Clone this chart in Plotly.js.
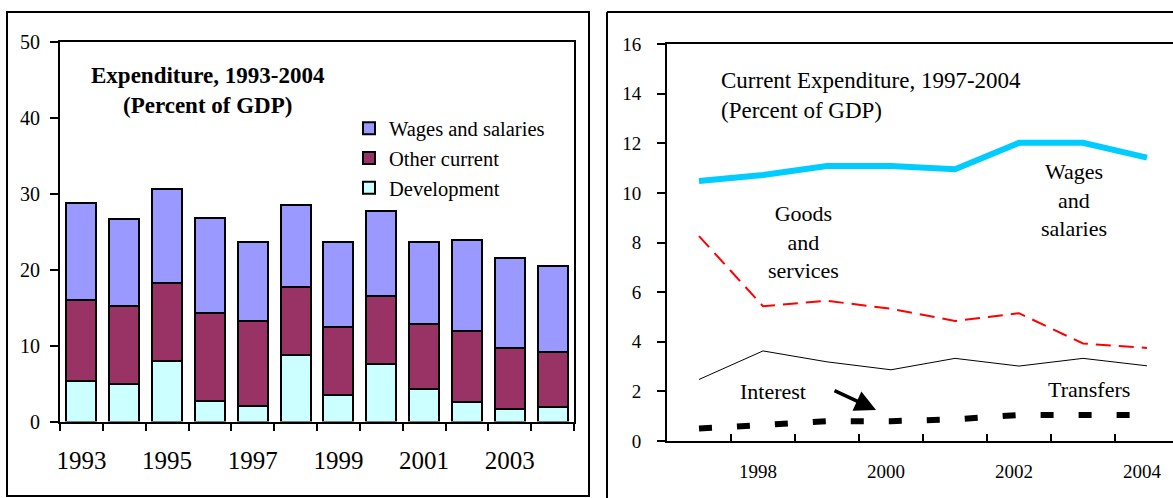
<!DOCTYPE html>
<html>
<head>
<meta charset="utf-8">
<script src="https://cdn.plot.ly/plotly-3.0.1.min.js"></script>
<style>
html,body{margin:0;padding:0;overflow:hidden;background:#fff;}
#chart{width:1185px;height:498px;}
</style>
</head>
<body>
<div id="chart"></div>
<script>
// ---- Left chart data: Expenditure, 1993-2004 (percent of GDP) ----
const barYears = [1993,1994,1995,1996,1997,1998,1999,2000,2001,2002,2003,2004];
const development = [5.4, 5.0, 8.0, 2.7, 2.0, 8.7, 3.5, 7.6, 4.3, 2.6, 1.6, 1.85];
const otherCurrent = [10.6, 10.2, 10.2, 11.6, 11.2, 9.0, 9.0, 8.9, 8.5, 9.3, 8.1, 7.25];
const wagesBar = [12.8, 11.5, 12.4, 12.5, 10.5, 10.8, 11.2, 11.2, 10.9, 11.95, 11.8, 11.35];
const barTickLabels = ['1993','1995','1997','1999','2001','2003'];

// ---- Right chart data: Current Expenditure, 1997-2004 (percent of GDP) ----
const lineYears = [1997,1998,1999,2000,2001,2002,2003,2004];
const wagesLine = [10.48, 10.72, 11.08, 11.08, 10.95, 12.02, 12.02, 11.42];
const goodsServices = [8.26, 5.43, 5.65, 5.33, 4.84, 5.15, 3.93, 3.75];
const transfers = [2.48, 3.63, 3.19, 2.87, 3.33, 3.02, 3.33, 3.03];
const interest = [0.5, 0.68, 0.8, 0.8, 0.87, 1.05, 1.05, 1.05];
const lineTickLabels = ['1998','2000','2002','2004'];

const W = 1185, H = 498;
const px = x => x / W;
const py = y => (H - y) / H;
const FONT = 'Liberation Serif';

const traces = [
  {type:'bar', name:'Development', x:barYears, y:development, xaxis:'x', yaxis:'y',
   marker:{color:'#CCFFFF', line:{color:'#000', width:2}}},
  {type:'bar', name:'Other current', x:barYears, y:otherCurrent, xaxis:'x', yaxis:'y',
   marker:{color:'#993366', line:{color:'#000', width:2}}},
  {type:'bar', name:'Wages and salaries', x:barYears, y:wagesBar, xaxis:'x', yaxis:'y',
   marker:{color:'#9999FF', line:{color:'#000', width:2}}},
  {type:'scatter', mode:'lines', name:'Wages and salaries', x:lineYears, y:wagesLine,
   xaxis:'x2', yaxis:'y2', showlegend:false, line:{color:'#00CCFF', width:6}},
  {type:'scatter', mode:'lines', name:'Goods and services', x:lineYears, y:goodsServices,
   xaxis:'x2', yaxis:'y2', showlegend:false, line:{color:'#FF0000', width:2, dash:'15px,8px'}},
  {type:'scatter', mode:'lines', name:'Transfers', x:lineYears, y:transfers,
   xaxis:'x2', yaxis:'y2', showlegend:false, line:{color:'#000', width:1}},
  {type:'scatter', mode:'lines', name:'Interest', x:lineYears, y:interest,
   xaxis:'x2', yaxis:'y2', showlegend:false, line:{color:'#000', width:6, dash:'13px,25px'}}
];

// tick marks at category boundaries
const barBounds = [];
for (let i = 0; i <= barYears.length; i++) barBounds.push(barYears[0] - 0.5 + i);
const lineBounds = [];
for (let i = 1; i < lineYears.length; i++) lineBounds.push(lineYears[0] - 0.5 + i);

const axisBase = {showgrid:false, zeroline:false, fixedrange:true, color:'#000',
  linecolor:'#000', tickcolor:'#000'};

const layout = {
  width: W, height: H,
  margin:{l:0, r:0, t:0, b:0},
  paper_bgcolor:'#fff', plot_bgcolor:'#fff',
  barmode:'stack', bargap:0.3,
  font:{family:FONT, color:'#000'},
  showlegend:true,
  legend:{x:px(349), y:py(108.5), xanchor:'left', yanchor:'top', traceorder:'reversed',
    font:{family:FONT, size:20.5, color:'#000'}, bgcolor:'rgba(0,0,0,0)', tracegroupgap:0},
  xaxis: Object.assign({}, axisBase, {domain:[px(60), px(574)], range:[1992.5, 2004.5],
    anchor:'y', tickmode:'array', tickvals:[1993,1995,1997,1999,2001,2003], ticktext:barTickLabels,
    ticks:'', ticklabelstandoff:15, tickfont:{family:FONT, size:25},
    minor:{tickmode:'array', tickvals:barBounds, ticks:'outside', ticklen:7, tickwidth:2, tickcolor:'#000', showgrid:false},
    showline:true, linewidth:2, mirror:true}),
  yaxis: Object.assign({}, axisBase, {domain:[py(421.5), py(42)], range:[0,50], dtick:10,
    anchor:'x', ticks:'outside', ticklen:8, tickwidth:2, showline:true, linewidth:2,
    mirror:true, ticklabelstandoff:6, tickfont:{family:FONT, size:20}}),
  xaxis2: Object.assign({}, axisBase, {domain:[px(667), px(1179)], range:[1996.5, 2004.5],
    anchor:'y2', tickmode:'array', tickvals:[1998,2000,2002,2004], ticktext:lineTickLabels,
    ticks:'', ticklabelstandoff:12, ticklabelshift:-5, tickfont:{family:FONT, size:19},
    minor:{tickmode:'array', tickvals:lineBounds, ticks:'inside', ticklen:7, tickwidth:2, tickcolor:'#000', showgrid:false},
    showline:true, linewidth:2, mirror:true}),
  yaxis2: Object.assign({}, axisBase, {domain:[py(441), py(44)], range:[0,16], dtick:2,
    anchor:'x2', ticks:'outside', ticklen:8, tickwidth:2, showline:true, linewidth:2,
    mirror:true, ticklabelstandoff:12, tickfont:{family:FONT, size:19}}),
  shapes:[
    {type:'rect', xref:'paper', yref:'paper', x0:px(7), x1:px(589), y0:py(496), y1:py(12),
     line:{color:'#000', width:2}},
    {type:'line', xref:'paper', yref:'paper', x0:px(607), x1:px(607), y0:py(520), y1:py(12),
     line:{color:'#000', width:2}},
    {type:'line', xref:'paper', yref:'paper', x0:px(607), x1:px(1200), y0:py(12), y1:py(12),
     line:{color:'#000', width:2}}
  ],
  annotations:[
    {xref:'paper', yref:'paper', x:px(208), y:py(90), xanchor:'center', yanchor:'middle',
     showarrow:false, align:'center', font:{family:FONT, size:23, color:'#000'},
     text:'<b>Expenditure, 1993-2004<br>(Percent of GDP)</b>'},
    {xref:'paper', yref:'paper', x:px(719), y:py(95), xanchor:'left', yanchor:'middle',
     showarrow:false, align:'left', font:{family:FONT, size:23, color:'#000'},
     text:'Current Expenditure, 1997-2004<br>(Percent of GDP)'},
    {xref:'paper', yref:'paper', x:px(804), y:py(242), xanchor:'center', yanchor:'middle',
     showarrow:false, align:'center', font:{family:FONT, size:22, color:'#000'},
     text:'Goods<br>and<br>services'},
    {xref:'paper', yref:'paper', x:px(1074), y:py(200), xanchor:'center', yanchor:'middle',
     showarrow:false, align:'center', font:{family:FONT, size:22, color:'#000'},
     text:'Wages<br>and<br>salaries'},
    {xref:'paper', yref:'paper', x:px(773), y:py(391), xanchor:'center', yanchor:'middle',
     showarrow:false, font:{family:FONT, size:22, color:'#000'}, text:'Interest'},
    {xref:'paper', yref:'paper', x:px(1089), y:py(389), xanchor:'center', yanchor:'middle',
     showarrow:false, font:{family:FONT, size:22, color:'#000'}, text:'Transfers'},
    {xref:'paper', yref:'paper', x:px(876), y:py(410), text:'', showarrow:true,
     arrowhead:2, arrowsize:1.2, arrowwidth:3.5, arrowcolor:'#000', ax:-43, ay:-20}
  ]
};

Plotly.newPlot('chart', traces, layout, {staticPlot:true, displayModeBar:false});
</script>
</body>
</html>
